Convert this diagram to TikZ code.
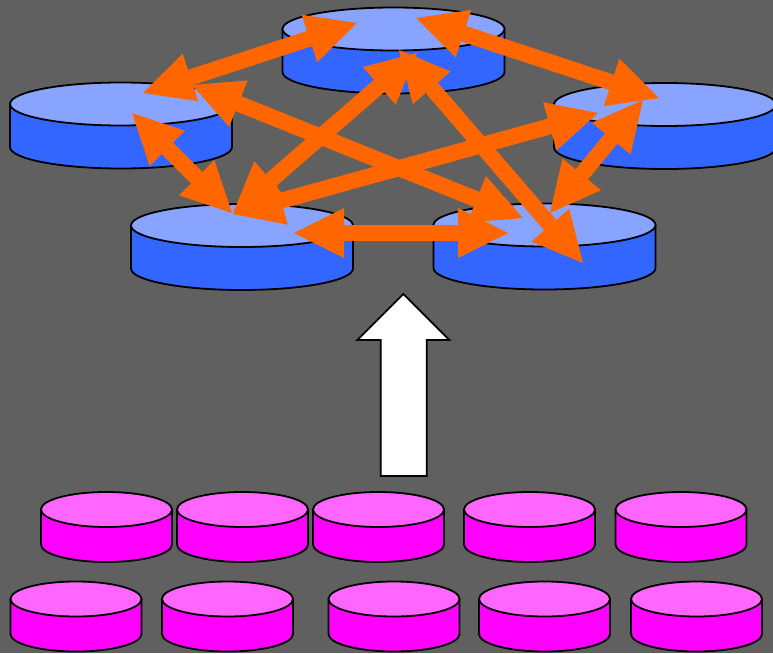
\documentclass[tikz,border=0pt]{standalone}
\usetikzlibrary{arrows.meta}
\definecolor{bgc}{RGB}{96,96,96}
\definecolor{bluetopc}{RGB}{136,164,255}
\definecolor{bluebodyc}{RGB}{51,102,255}
\definecolor{magtopc}{RGB}{255,102,255}
\definecolor{magbodyc}{RGB}{255,0,255}
\definecolor{orangec}{RGB}{255,102,0}
\tikzset{
  diskline/.style={draw=black, line width=1.8pt},
  biarrow/.style={draw=orangec, line width=16pt,
    {Triangle[length=50pt,width=50pt,line width=0pt]}-{Triangle[length=50pt,width=50pt,line width=0pt]}},
  bigarrow/.style={fill=white, draw=black, line width=1.8pt, line join=miter}
}
% name, cx, cy (top centre), rx, ry, height, colour prefix
\newcommand\mydisk[7]{%
  \coordinate (#1) at (#2,#3);
  \filldraw[diskline, fill=#7bodyc] (#2-#4,#3) -- (#2-#4,#3+#6)
    arc[start angle=180,end angle=0,x radius=#4,y radius=#5] -- (#2+#4,#3) -- cycle;
  \filldraw[diskline, fill=#7topc] (#1) ellipse[x radius=#4, y radius=#5];
}
\begin{document}
\begin{tikzpicture}[x=1pt,y=-1pt]
\useasboundingbox (0,0) rectangle (773,653);
\fill[bgc] (0,0) rectangle (773,653);
% blue disks
\mydisk{T}{393.5}{29}{111}{21.5}{43}{blue}
\mydisk{L}{121}{104}{111}{21.5}{43}{blue}
\mydisk{R}{665}{104.5}{111}{21.5}{43}{blue}
\mydisk{BL}{242}{225.5}{111}{21.5}{43}{blue}
\mydisk{BR}{544.5}{225}{111}{21.5}{43}{blue}
% arrow end points
\coordinate (TL-a) at (143,93);  \coordinate (TL-b) at (357,23);
\coordinate (TR-a) at (416,18);  \coordinate (TR-b) at (659,98);
\coordinate (LBL-a) at (132,113); \coordinate (LBL-b) at (232,213);
\coordinate (RBR-a) at (643,100); \coordinate (RBR-b) at (550,213);
\coordinate (BB-a) at (294,233);  \coordinate (BB-b) at (508,233);
\coordinate (LBR-a) at (192,85);  \coordinate (LBR-b) at (523,218);
\coordinate (TBL-a) at (417,53);  \coordinate (TBL-b) at (233,213);
\coordinate (TBR-a) at (399,50);  \coordinate (TBR-b) at (583,263);
\coordinate (BLR-a) at (233,214); \coordinate (BLR-b) at (598,113);
% orange double arrows
\draw[biarrow] (TL-a) -- (TL-b);
\draw[biarrow] (TR-a) -- (TR-b);
\draw[biarrow] (LBL-a) -- (LBL-b);
\draw[biarrow] (RBR-a) -- (RBR-b);
\draw[biarrow] (BB-a) -- (BB-b);
\draw[biarrow] (LBR-a) -- (LBR-b);
\draw[biarrow] (TBL-a) -- (TBL-b);
\draw[biarrow] (TBR-a) -- (TBR-b);
\draw[biarrow] (BLR-a) -- (BLR-b);
% white block arrow
\filldraw[bigarrow] (403.3,294) -- (449.3,340) -- (426.7,340) -- (426.7,476)
  -- (380.7,476) -- (380.7,340) -- (357.3,340) -- cycle;
% magenta disks
\mydisk{M1}{106.5}{509.5}{65.5}{17.5}{35}{mag}
\mydisk{M2}{242.5}{509.5}{65.5}{17.5}{35}{mag}
\mydisk{M3}{378.5}{509.5}{65.5}{17.5}{35}{mag}
\mydisk{M4}{529.5}{509.5}{65.5}{17.5}{35}{mag}
\mydisk{M5}{681}{509.5}{65.5}{17.5}{35}{mag}
\mydisk{M6}{76}{599}{65.5}{17.5}{35}{mag}
\mydisk{M7}{227.5}{599}{65.5}{17.5}{35}{mag}
\mydisk{M8}{394}{599}{65.5}{17.5}{35}{mag}
\mydisk{M9}{544.5}{599}{65.5}{17.5}{35}{mag}
\mydisk{M10}{696.5}{599}{65.5}{17.5}{35}{mag}
\end{tikzpicture}
\end{document}
